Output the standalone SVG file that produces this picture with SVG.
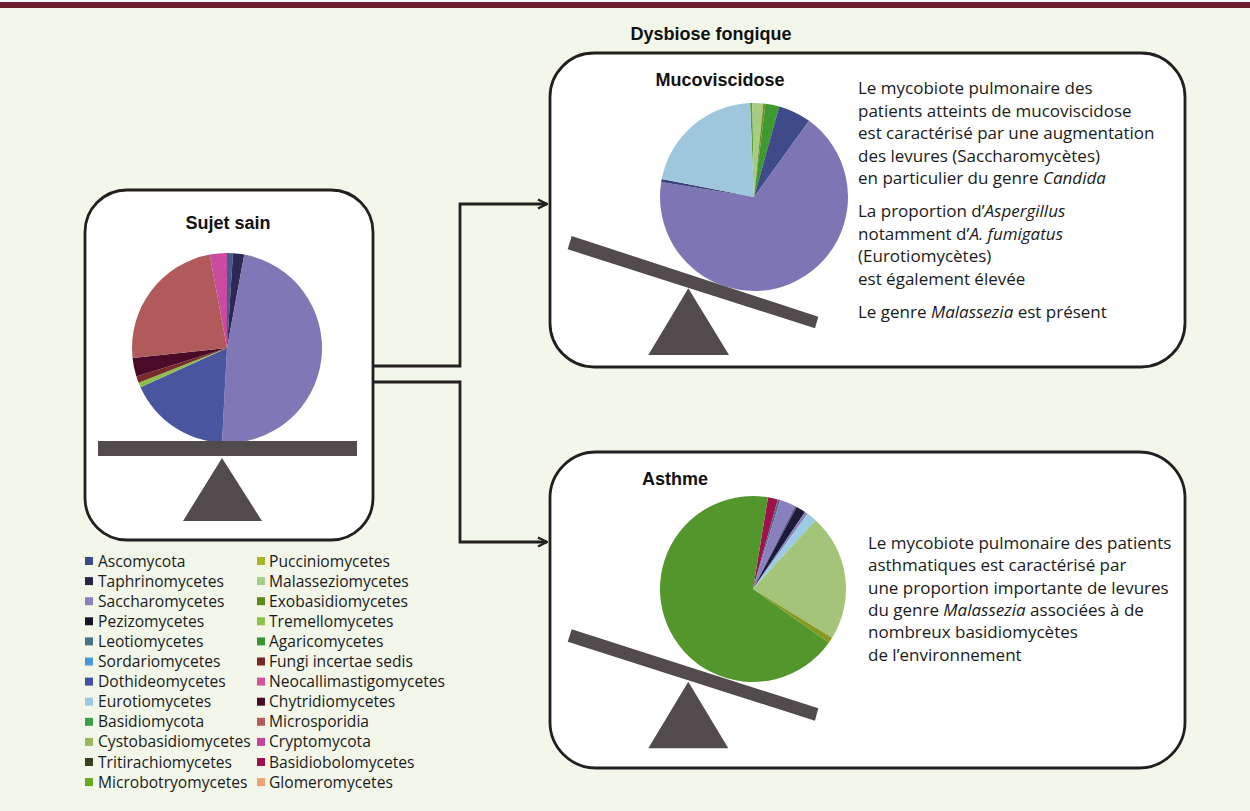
<svg xmlns="http://www.w3.org/2000/svg" width="1250" height="811" viewBox="0 0 1250 811">
<defs>
<style>
.box{fill:#ffffff;stroke:#231f20;stroke-width:2.8}
.title{font-family:"Liberation Sans",Arial,sans-serif;font-weight:bold;font-size:18px;fill:#111111;text-anchor:middle}
.body{font-family:"Open Sans","Noto Sans",sans-serif;font-size:17px;fill:#1a1a1a}
.leg{font-family:"Open Sans","Noto Sans",sans-serif;font-size:15.6px;fill:#1a1a1a}
.conn{fill:none;stroke:#231f20;stroke-width:2.8}
.seesaw{fill:#524b4e}
.it{font-style:italic}
</style>
<marker id="arr" viewBox="0 0 12 12" refX="11" refY="6" markerWidth="12" markerHeight="12" markerUnits="userSpaceOnUse" orient="auto">
<path d="M2,1.5 L11,6 L2,10.5" fill="none" stroke="#231f20" stroke-width="2.4"/>
</marker>
</defs>
<rect x="0" y="0" width="1250" height="811" fill="#f2f7ea"/>
<rect x="0" y="0" width="1250" height="2" fill="#ffffff"/>
<rect x="0" y="2" width="1250" height="6" fill="#6e1f2f"/>
<text class="title" x="711" y="40">Dysbiose fongique</text>

<g id="connectors">
<path class="conn" d="M373,366 H460 V204 H547" marker-end="url(#arr)"/>
<path class="conn" d="M373,382 H460 V542 H547" marker-end="url(#arr)"/>
</g>

<g id="sujet-sain">
<rect class="box" x="85" y="190" width="288" height="350" rx="42" ry="42"/>
<text class="title" x="228" y="229">Sujet sain</text>
<path d="M227,348 L227,253 A95,95 0 0 1 232.97,253.19 Z" fill="#4a5a8c"/>
<path d="M227,348 L232.97,253.19 A95,95 0 0 1 244.31,254.59 Z" fill="#2a2a55"/>
<path d="M227,348 L244.31,254.59 A95,95 0 0 1 222.03,442.87 Z" fill="#7f77b6"/>
<path d="M227,348 L222.03,442.87 A95,95 0 0 1 140.48,387.25 Z" fill="#4a55a0"/>
<path d="M227,348 L140.48,387.25 A95,95 0 0 1 138.61,382.82 Z" fill="#8cc04a"/>
<path d="M227,348 L138.61,382.82 A95,95 0 0 1 136.40,376.57 Z" fill="#7a2a2a"/>
<path d="M227,348 L136.40,376.57 A95,95 0 0 1 132.52,357.93 Z" fill="#4a0a28"/>
<path d="M227,348 L132.52,357.93 A95,95 0 0 1 209.69,254.59 Z" fill="#b05a5c"/>
<path d="M227,348 L209.69,254.59 A95,95 0 0 1 227,253 Z" fill="#c94a9e"/>
<rect class="seesaw" x="98" y="441" width="259" height="15"/>
<polygon class="seesaw" points="222,458 262,521 183,521"/>
</g>

<g id="mucoviscidose">
<rect class="box" x="550" y="53" width="635" height="314" rx="44" ry="44"/>
<text class="title" x="720" y="86">Mucoviscidose</text>
<path d="M754,197 L750.06,103.08 A94,94 0 0 1 752.36,103.01 Z" fill="#5aa02a"/>
<path d="M754,197 L752.36,103.01 A94,94 0 0 1 763.34,103.46 Z" fill="#a6cc82"/>
<path d="M754,197 L763.34,103.46 A94,94 0 0 1 765.46,103.70 Z" fill="#7a8a1a"/>
<path d="M754,197 L765.46,103.70 A94,94 0 0 1 779.28,106.46 Z" fill="#3e9a30"/>
<path d="M754,197 L779.28,106.46 A94,94 0 0 1 809.12,120.86 Z" fill="#3e4a8a"/>
<path d="M754,197 L809.12,120.86 A94,94 0 1 1 661.21,181.97 Z" fill="#7e76b4"/>
<path d="M754,197 L661.21,181.97 A94,94 0 0 1 661.73,179.06 Z" fill="#3a3f7a"/>
<path d="M754,197 L661.73,179.06 A94,94 0 0 1 750.06,103.08 Z" fill="#9ec6dc"/>
<polygon class="seesaw" points="571.7,236 818.3,316.7 815,328.3 567.7,249.3"/>
<polygon class="seesaw" points="688.3,288.3 729,355 648.3,355"/>
<text class="body" x="858" y="94">Le mycobiote pulmonaire des</text>
<text class="body" x="858" y="116.5">patients atteints de mucoviscidose</text>
<text class="body" x="858" y="139">est caractérisé par une augmentation</text>
<text class="body" x="858" y="161.5">des levures (Saccharomycètes)</text>
<text class="body" x="858" y="184">en particulier du genre <tspan class="it">Candida</tspan></text>
<text class="body" x="858" y="217">La proportion d’<tspan class="it">Aspergillus</tspan></text>
<text class="body" x="858" y="239.5">notamment d’<tspan class="it">A. fumigatus</tspan></text>
<text class="body" x="858" y="262">(Eurotiomycètes)</text>
<text class="body" x="858" y="284.5">est également élevée</text>
<text class="body" x="858" y="318">Le genre <tspan class="it">Malassezia</tspan> est présent</text>
</g>

<g id="asthme">
<rect class="box" x="550" y="452" width="635" height="316" rx="46" ry="46"/>
<text class="title" x="675" y="485">Asthme</text>
<path d="M753,589 L768.03,497.22 A93,93 0 0 1 777.85,499.39 Z" fill="#a0104c"/>
<path d="M753,589 L777.85,499.39 A93,93 0 0 1 780.19,500.06 Z" fill="#4a6a8a"/>
<path d="M753,589 L780.19,500.06 A93,93 0 0 1 794.93,505.99 Z" fill="#8a80c0"/>
<path d="M753,589 L794.93,505.99 A93,93 0 0 1 796.66,506.89 Z" fill="#5a5a8a"/>
<path d="M753,589 L796.66,506.89 A93,93 0 0 1 805.00,511.90 Z" fill="#1c1c3a"/>
<path d="M753,589 L805.00,511.90 A93,93 0 0 1 807.66,513.76 Z" fill="#8a80c0"/>
<path d="M753,589 L807.66,513.76 A93,93 0 0 1 815.59,520.22 Z" fill="#9ccbe4"/>
<path d="M753,589 L815.59,520.22 A93,93 0 0 1 832.12,637.87 Z" fill="#a4c47a"/>
<path d="M753,589 L832.12,637.87 A93,93 0 0 1 828.80,642.87 Z" fill="#8a9a20"/>
<path d="M753,589 L828.80,642.87 A93,93 0 1 1 768.03,497.22 Z" fill="#52962c"/>
<polygon class="seesaw" points="571.7,629.3 818.3,708.3 815,720.7 567.7,641.7"/>
<polygon class="seesaw" points="688.3,681.7 728.3,748.3 648.3,748.3"/>
<text class="body" x="868" y="549">Le mycobiote pulmonaire des patients</text>
<text class="body" x="868" y="571.3">asthmatiques est caractérisé par</text>
<text class="body" x="868" y="593.6">une proportion importante de levures</text>
<text class="body" x="868" y="616">du genre <tspan class="it">Malassezia</tspan> associées à de</text>
<text class="body" x="868" y="638.2">nombreux basidiomycètes</text>
<text class="body" x="868" y="660.5">de l’environnement</text>
</g>

<g id="legend">
<rect x="85" y="557" width="8" height="8" fill="#3b4a86"/><text class="leg" x="98" y="566.5">Ascomycota</text>
<rect x="85" y="577.1" width="8" height="8" fill="#262645"/><text class="leg" x="98" y="586.6">Taphrinomycetes</text>
<rect x="85" y="597.2" width="8" height="8" fill="#8a80be"/><text class="leg" x="98" y="606.7">Saccharomycetes</text>
<rect x="85" y="617.3" width="8" height="8" fill="#15152a"/><text class="leg" x="98" y="626.8">Pezizomycetes</text>
<rect x="85" y="637.4" width="8" height="8" fill="#46728a"/><text class="leg" x="98" y="646.9">Leotiomycetes</text>
<rect x="85" y="657.5" width="8" height="8" fill="#4a98dc"/><text class="leg" x="98" y="667">Sordariomycetes</text>
<rect x="85" y="677.6" width="8" height="8" fill="#4552a4"/><text class="leg" x="98" y="687.1">Dothideomycetes</text>
<rect x="85" y="697.7" width="8" height="8" fill="#9ccae4"/><text class="leg" x="98" y="707.2">Eurotiomycetes</text>
<rect x="85" y="717.8" width="8" height="8" fill="#3e9e44"/><text class="leg" x="98" y="727.3">Basidiomycota</text>
<rect x="85" y="737.9" width="8" height="8" fill="#9ab85a"/><text class="leg" x="98" y="747.4">Cystobasidiomycetes</text>
<rect x="85" y="758" width="8" height="8" fill="#34431c"/><text class="leg" x="98" y="767.5">Tritirachiomycetes</text>
<rect x="85" y="778.1" width="8" height="8" fill="#66aa24"/><text class="leg" x="98" y="787.6">Microbotryomycetes</text>
<rect x="257" y="557" width="8" height="8" fill="#a6b62a"/><text class="leg" x="269" y="566.5">Pucciniomycetes</text>
<rect x="257" y="577.1" width="8" height="8" fill="#a8cc8c"/><text class="leg" x="269" y="586.6">Malasseziomycetes</text>
<rect x="257" y="597.2" width="8" height="8" fill="#5e8a1a"/><text class="leg" x="269" y="606.7">Exobasidiomycetes</text>
<rect x="257" y="617.3" width="8" height="8" fill="#8ec04a"/><text class="leg" x="269" y="626.8">Tremellomycetes</text>
<rect x="257" y="637.4" width="8" height="8" fill="#3a9430"/><text class="leg" x="269" y="646.9">Agaricomycetes</text>
<rect x="257" y="657.5" width="8" height="8" fill="#7a2626"/><text class="leg" x="269" y="667">Fungi incertae sedis</text>
<rect x="257" y="677.6" width="8" height="8" fill="#d4549c"/><text class="leg" x="269" y="687.1">Neocallimastigomycetes</text>
<rect x="257" y="697.7" width="8" height="8" fill="#4a0c24"/><text class="leg" x="269" y="707.2">Chytridiomycetes</text>
<rect x="257" y="717.8" width="8" height="8" fill="#b25c5c"/><text class="leg" x="269" y="727.3">Microsporidia</text>
<rect x="257" y="737.9" width="8" height="8" fill="#c4449c"/><text class="leg" x="269" y="747.4">Cryptomycota</text>
<rect x="257" y="758" width="8" height="8" fill="#a00c4c"/><text class="leg" x="269" y="767.5">Basidiobolomycetes</text>
<rect x="257" y="778.1" width="8" height="8" fill="#eaa474"/><text class="leg" x="269" y="787.6">Glomeromycetes</text>
</g>
</svg>
